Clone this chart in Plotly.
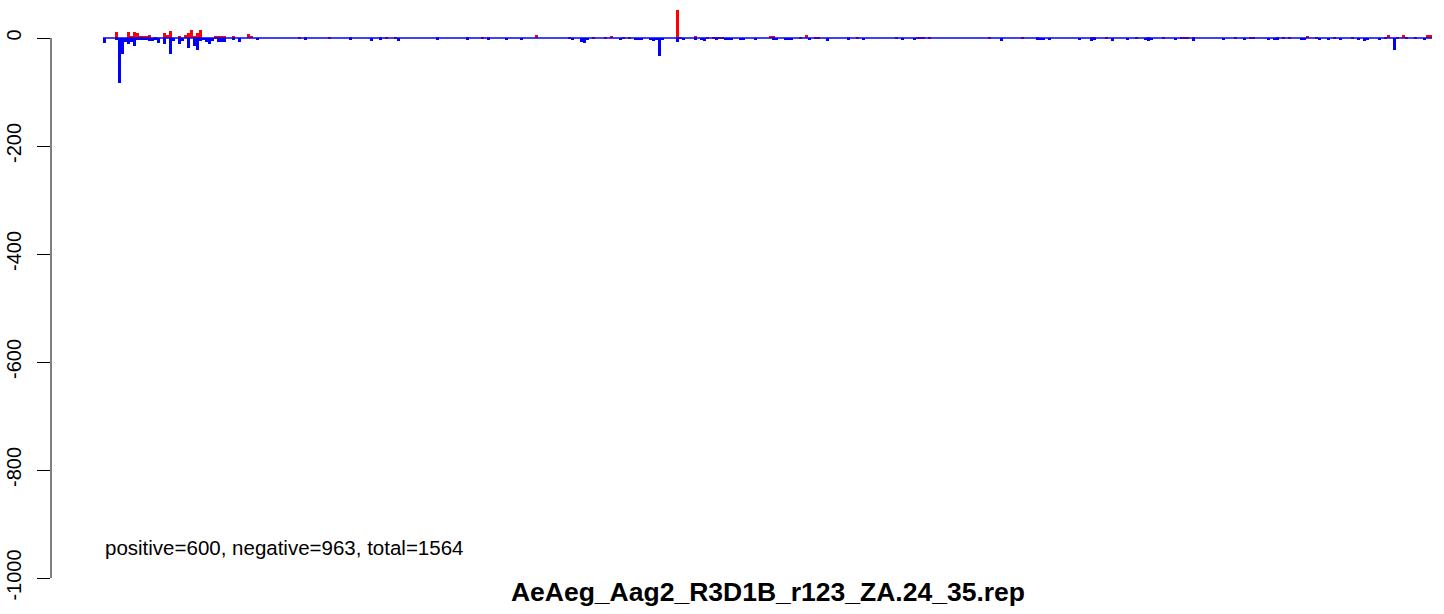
import plotly.graph_objects as go

# Data: bin index along the sequence and read counts (positive strand up, negative strand down)
pos_bins = [4, 8, 9, 10, 11, 12, 13, 14, 15, 17, 20, 21, 22, 25, 27, 28, 29, 30, 31, 32,
            37, 38, 39, 40, 43, 48, 49, 65, 67, 75, 82, 92, 94, 97, 111,
            121, 126, 128, 144, 155, 163, 167, 169, 173, 175, 191, 192, 197, 201, 203, 204,
            205, 206, 222, 223, 232, 234, 237, 238, 248, 251, 264, 271, 272, 273, 275, 295,
            306, 311, 329, 330, 334, 344, 348, 353, 359, 360, 361, 363, 377, 382, 383, 391,
            393, 395, 401, 404, 410, 416, 427, 428, 431, 433, 434, 437, 441, 442]
pos_vals = [12, 12, 4, 12, 10, 3, 4, 4, 6, 2, 10, 6, 13, 4, 6, 10, 15, 3, 10, 15,
            3, 3, 3, 3, 4, 7, 4, 1, 1, 2, 1, 2, 2, 2, 2,
            1, 2, 2, 5, 1, 1, 1, 4, 2, 2, 52, 1, 4, 2, 2, 2,
            2, 2, 4, 4, 2, 6, 2, 2, 2, 2, 2, 2, 2, 1, 2, 2,
            2, 1, 1, 1, 1, 1, 2, 2, 1, 2, 2, 1, 2, 2, 1, 2,
            2, 2, 4, 2, 2, 2, 2, 5, 2, 5, 2, 2, 5, 5]

neg_bins = [0, 4, 5, 6, 7, 8, 9, 10, 11, 12, 13, 14, 15, 16, 17, 18, 20, 22, 23, 25, 26,
            28, 30, 31, 32, 33, 34, 35, 36, 38, 39, 40, 43, 45, 51,
            67, 82, 89, 92, 98, 111,
            121, 128, 134, 139, 156, 159, 160, 161, 172, 177, 178, 179, 182, 183, 184, 185,
            186, 191, 193, 197, 199, 200, 204, 207, 208, 209, 212, 213, 217, 223, 224, 227,
            228, 229, 235, 241, 248, 253, 266, 270, 299, 311, 312, 313, 315, 325, 329, 330,
            336, 341, 347, 348, 349, 357, 363, 373, 380, 388, 390, 391, 399, 400, 405, 408,
            412, 418, 420, 421, 425, 430, 440]
neg_vals = [-10, -4, -83, -30, -8, -12, -8, -14, -2, -4, -4, -2, -6, -6, -4, -10, -11, -29, -5, -11, -6,
            -19, -15, -23, -6, -4, -8, -11, -5, -8, -8, -8, -2, -8, -3,
            -2, -4, -6, -3, -6, -3,
            -4, -3, -2, -2, -3, -7, -9, -4, -4, -2, -2, -2, -2, -5, -2, -34,
            -2, -8, -2, -4, -3, -6, -4, -2, -4, -2, -2, -4, -2, -4, -4, -2,
            -2, -2, -2, -6, -2, -4, -4, -2, -6, -2, -2, -2, -4, -4, -6, -2,
            -6, -4, -2, -6, -2, -2, -6, -4, -2, -4, -4, -2, -4, -4, -2, -2,
            -2, -2, -6, -2, -4, -23, -2]

seq_start, seq_end = 0, 443
y_ticks = [0, -200, -400, -600, -800, -1000]
stats_text = "positive=600, negative=963, total=1564"
title_text = "AeAeg_Aag2_R3D1B_r123_ZA.24_35.rep"

fig = go.Figure()
fig.add_trace(go.Bar(x=[b + 0.5 for b in pos_bins], y=pos_vals, width=1,
                     marker=dict(color="#FF0000", line=dict(width=0)), showlegend=False))
fig.add_trace(go.Bar(x=[b + 0.5 for b in neg_bins], y=neg_vals, width=1,
                     marker=dict(color="#0000FF", line=dict(width=0)), showlegend=False))
fig.add_trace(go.Scatter(x=[seq_start, seq_end], y=[0, 0], mode="lines",
                         line=dict(color="#0000FF", width=1.5), showlegend=False,
                         hoverinfo="skip"))

# y axis line spanning tick range only (R style)
fig.add_shape(type="line", xref="paper", yref="y", x0=0, x1=0, y0=0, y1=-1000,
              line=dict(color="black", width=1))

fig.add_annotation(x=seq_start, y=-944, xref="x", yref="y", text=stats_text,
                   showarrow=False, xanchor="left", yanchor="middle",
                   font=dict(family="Liberation Sans, Arial", size=20.5, color="black"))

fig.update_layout(
    width=1444, height=614,
    margin=dict(l=51, r=0, t=0, b=36, autoexpand=False),
    paper_bgcolor="white", plot_bgcolor="white",
    barmode="overlay", bargap=0,
    font=dict(family="Liberation Sans, Arial", color="black"),
    title=dict(text="<b>" + title_text + "</b>", xref="paper", x=0.5147, xanchor="center",
               yref="container", y=1 - 592 / 614, yanchor="middle",
               font=dict(family="Liberation Sans, Arial", size=26.5, color="black"),
               automargin=False),
    xaxis=dict(visible=False, range=[-17.33, 447], automargin=False),
    yaxis=dict(range=[-1000, 70.4], tickvals=y_ticks, ticktext=[str(v) for v in y_ticks],
               ticks="outside", ticklen=13, tickcolor="black", tickwidth=1,
               tickangle=-90, tickfont=dict(size=20, family="Liberation Sans, Arial"),
               showgrid=False, zeroline=False, showline=False, ticklabelstandoff=8,
               automargin=False),
)

fig.write_html("out.html", config={"displayModeBar": False},
               post_script="document.body.style.margin='0';document.body.style.padding='0';")
